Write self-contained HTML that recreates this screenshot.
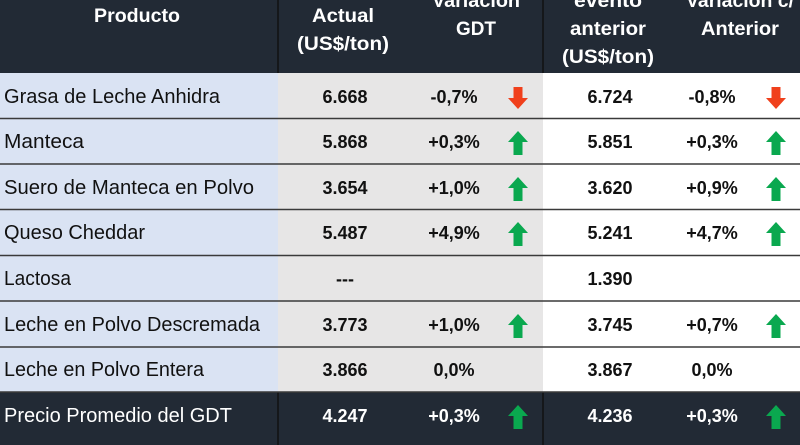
<!DOCTYPE html>
<html><head><meta charset="utf-8"><style>
html,body{margin:0;padding:0;background:#fff;}
svg{display:block;}
text{font-family:"Liberation Sans",sans-serif;}
.h{fill:#fff;font-weight:bold;font-size:19px;text-anchor:middle;}
.p{fill:#111;font-size:20px;}
.n{fill:#111;font-weight:bold;font-size:18px;text-anchor:middle;}
.w{fill:#fff;}
</style></head><body>
<svg width="800" height="445" viewBox="0 0 800 445" xmlns="http://www.w3.org/2000/svg">
<defs>
<g id="up"><polygon points="10,0 20,11 14.5,11 14.5,24 5.5,24 5.5,11 0,11" fill="#0aa84f"/></g>
<g id="dn"><polygon points="10,22 20,11 14.5,11 14.5,0 5.5,0 5.5,11 0,11" fill="#f0401c"/></g>
</defs>
<rect x="0" y="0" width="800" height="73" fill="#222a35"/>
<rect x="0" y="73" width="278" height="319" fill="#dae3f3"/>
<rect x="278" y="73" width="265" height="319" fill="#e7e6e6"/>
<rect x="543" y="73" width="257" height="319" fill="#ffffff"/>
<rect x="0" y="392" width="800" height="53" fill="#222a35"/>
<line x1="278" y1="0" x2="278" y2="73" stroke="#111" stroke-width="1.5"/>
<line x1="543" y1="0" x2="543" y2="73" stroke="#111" stroke-width="1.5"/>
<line x1="278" y1="392" x2="278" y2="445" stroke="#111" stroke-width="1.5"/>
<line x1="543" y1="392" x2="543" y2="445" stroke="#111" stroke-width="1.5"/>
<g stroke="#3a3a3a" stroke-width="1.6">
<line x1="0" y1="118.5" x2="800" y2="118.5"/>
<line x1="0" y1="164" x2="800" y2="164"/>
<line x1="0" y1="209.5" x2="800" y2="209.5"/>
<line x1="0" y1="255.5" x2="800" y2="255.5"/>
<line x1="0" y1="301" x2="800" y2="301"/>
<line x1="0" y1="347" x2="800" y2="347"/>
<line x1="0" y1="392" x2="800" y2="392"/>
</g>
<text class="h" x="137" y="22" textLength="86" lengthAdjust="spacingAndGlyphs">Producto</text>
<text class="h" x="343" y="22" textLength="62" lengthAdjust="spacingAndGlyphs">Actual</text>
<text class="h" x="343" y="50" textLength="92" lengthAdjust="spacingAndGlyphs">(US$/ton)</text>
<text class="h" x="476" y="7" textLength="88" lengthAdjust="spacingAndGlyphs">Variación</text>
<text class="h" x="476" y="35" textLength="40" lengthAdjust="spacingAndGlyphs">GDT</text>
<text class="h" x="608" y="7" textLength="68" lengthAdjust="spacingAndGlyphs">evento</text>
<text class="h" x="608" y="35" textLength="76" lengthAdjust="spacingAndGlyphs">anterior</text>
<text class="h" x="608" y="63" textLength="92" lengthAdjust="spacingAndGlyphs">(US$/ton)</text>
<text class="h" x="740" y="7" textLength="108" lengthAdjust="spacingAndGlyphs">Variación c/</text>
<text class="h" x="740" y="35" textLength="78" lengthAdjust="spacingAndGlyphs">Anterior</text>
<text class="p" x="4" y="103" textLength="216" lengthAdjust="spacingAndGlyphs">Grasa de Leche Anhidra</text>
<text class="p" x="4" y="148" textLength="80" lengthAdjust="spacingAndGlyphs">Manteca</text>
<text class="p" x="4" y="194" textLength="250" lengthAdjust="spacingAndGlyphs">Suero de Manteca en Polvo</text>
<text class="p" x="4" y="239" textLength="141" lengthAdjust="spacingAndGlyphs">Queso Cheddar</text>
<text class="p" x="4" y="285" textLength="67" lengthAdjust="spacingAndGlyphs">Lactosa</text>
<text class="p" x="4" y="331" textLength="256" lengthAdjust="spacingAndGlyphs">Leche en Polvo Descremada</text>
<text class="p" x="4" y="376" textLength="200" lengthAdjust="spacingAndGlyphs">Leche en Polvo Entera</text>
<text class="p w" x="4" y="422" textLength="228" lengthAdjust="spacingAndGlyphs">Precio Promedio del GDT</text>
<g class="n">
<text x="345" y="103">6.668</text><text x="454" y="103">-0,7%</text><text x="610" y="103">6.724</text><text x="712" y="103">-0,8%</text>
<text x="345" y="148">5.868</text><text x="454" y="148">+0,3%</text><text x="610" y="148">5.851</text><text x="712" y="148">+0,3%</text>
<text x="345" y="194">3.654</text><text x="454" y="194">+1,0%</text><text x="610" y="194">3.620</text><text x="712" y="194">+0,9%</text>
<text x="345" y="239">5.487</text><text x="454" y="239">+4,9%</text><text x="610" y="239">5.241</text><text x="712" y="239">+4,7%</text>
<text x="345" y="285">---</text><text x="610" y="285">1.390</text>
<text x="345" y="331">3.773</text><text x="454" y="331">+1,0%</text><text x="610" y="331">3.745</text><text x="712" y="331">+0,7%</text>
<text x="345" y="376">3.866</text><text x="454" y="376">0,0%</text><text x="610" y="376">3.867</text><text x="712" y="376">0,0%</text>
<text x="345" y="422" fill="#fff">4.247</text><text x="454" y="422" fill="#fff">+0,3%</text><text x="610" y="422" fill="#fff">4.236</text><text x="712" y="422" fill="#fff">+0,3%</text>
</g>
<use href="#dn" x="508" y="87"/><use href="#dn" x="766" y="87"/>
<use href="#up" x="508" y="131"/><use href="#up" x="766" y="131"/>
<use href="#up" x="508" y="177"/><use href="#up" x="766" y="177"/>
<use href="#up" x="508" y="222"/><use href="#up" x="766" y="222"/>
<use href="#up" x="508" y="314"/><use href="#up" x="766" y="314"/>
<use href="#up" x="508" y="405"/><use href="#up" x="766" y="405"/>
</svg>
</body></html>
